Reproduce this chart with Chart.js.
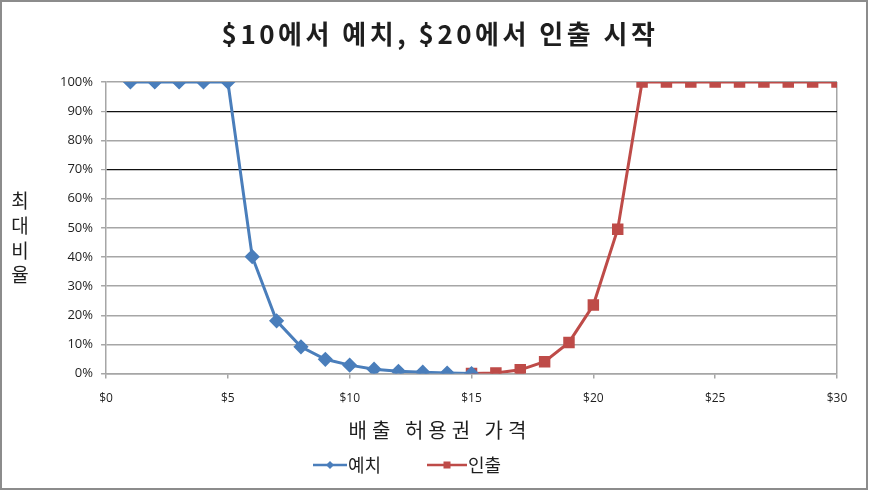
<!DOCTYPE html>
<html>
<head>
<meta charset="utf-8">
<script src="https://cdn.jsdelivr.net/npm/chart.js@4.4.1/dist/chart.umd.min.js"></script>
<style>
  html, body { margin: 0; padding: 0; background: #fff; }
  #wrap { position: relative; width: 870px; height: 491px; }
</style>
</head>
<body>
<div id="wrap"><canvas id="chart" width="870" height="491"></canvas></div>
<script>
// ======================================
// DATA
// ======================================
const depositPrice = [1, 2, 3, 4, 5, 6, 7, 8, 9, 10, 11, 12, 13, 14, 15];
const depositShare = [100, 100, 100, 100, 100, 40.1, 18.1, 9.2, 4.9, 2.9, 1.5, 0.8, 0.5, 0.2, 0];
const withdrawPrice = [15, 16, 17, 18, 19, 20, 21, 22, 23, 24, 25, 26, 27, 28, 29, 30];
const withdrawShare = [0, 0.2, 1.3, 4.1, 10.7, 23.5, 49.5, 100, 100, 100, 100, 100, 100, 100, 100, 100];
const seriesNames = ['예치', '인출'];
const chartTitle = '$10에서 예치, $20에서 인출 시작';
const xTitle = '배출 허용권 가격';
const yTitleChars = ['최', '대', '비', '율'];

const blue = '#4a7ebb';
const red = '#be4b48';
const textColor = '#1e1e1e';
const fontKr = '"Noto Sans CJK KR", "Noto Sans", sans-serif';
const fontTick = '"Open Sans", "Noto Sans", sans-serif';

function toPoints(xs, ys) { return xs.map((x, i) => ({ x: x, y: ys[i] })); }

// Excel-like legend entry: short line with the series marker, text right after it
function drawLegendItem(ctx, x, y, len, ds) {
    ctx.strokeStyle = ds.borderColor; ctx.lineWidth = 2.5;
    ctx.beginPath(); ctx.moveTo(x, y); ctx.lineTo(x + len, y); ctx.stroke();
    ctx.fillStyle = ds.borderColor;
    const cx = x + len / 2;
    if (ds.pointStyle === 'rectRot') {
        ctx.beginPath(); ctx.moveTo(cx, y - 4); ctx.lineTo(cx + 4, y); ctx.lineTo(cx, y + 4); ctx.lineTo(cx - 4, y); ctx.closePath(); ctx.fill();
    } else {
        ctx.fillRect(cx - 3.5, y - 3.5, 7, 7);
    }
    ctx.fillStyle = textColor;
    ctx.textAlign = 'left';
    ctx.fillText(ds.label, x + len + 1, y);
}

// frame, title, axis titles (letter spaced like the original), legend
const extras = {
    id: 'extras',
    afterDraw(chart) {
        const ctx = chart.ctx;
        ctx.save();
        ctx.strokeStyle = '#8c8c8c'; ctx.lineWidth = 2;
        ctx.strokeRect(1, 1, 866, 488);
        ctx.fillStyle = textColor;
        ctx.textAlign = 'center'; ctx.textBaseline = 'middle';

        ctx.font = 'bold 26px ' + fontKr;
        ctx.letterSpacing = '3.5px';
        ctx.fillText(chartTitle, 440, 34);

        ctx.font = '20px ' + fontKr;
        ctx.letterSpacing = '5px';
        ctx.fillText(xTitle, 440, 430);

        ctx.letterSpacing = '0px';
        ctx.font = '19px ' + fontKr;
        yTitleChars.forEach((ch, i) => ctx.fillText(ch, 20, 201 + i * 24.7));

        ctx.font = '18px ' + fontKr;
        const ds = chart.data.datasets;
        drawLegendItem(ctx, 313, 465, 34, ds[0]);
        drawLegendItem(ctx, 427, 465, 40, ds[1]);
        ctx.restore();
    }
};

const data = {
    datasets: [
        {
            label: seriesNames[0], data: toPoints(depositPrice, depositShare),
            borderColor: blue, backgroundColor: blue, borderWidth: 3,
            pointStyle: 'rectRot', pointRadius: 5.5, pointHoverRadius: 5.5, tension: 0
        },
        {
            label: seriesNames[1], data: toPoints(withdrawPrice, withdrawShare),
            borderColor: red, backgroundColor: red, borderWidth: 3,
            pointStyle: 'rect', pointRadius: 6, pointHoverRadius: 6, tension: 0
        }
    ]
};

const options = {
    responsive: false, animation: false,
    layout: { padding: { left: 52, right: 33, top: 82, bottom: 72 } },
    scales: {
        x: {
            type: 'linear', min: 0, max: 30,
            ticks: { stepSize: 5, padding: 13, color: textColor, font: { family: fontTick, size: 12 },
                     callback: v => '$' + v },
            grid: {
                color: c => c.tick && c.tick.value === 30 ? '#a6a6a6' : 'rgba(0,0,0,0)',
                tickColor: '#a6a6a6', tickLength: 5, lineWidth: 1.5
            },
            border: { color: '#a6a6a6', width: 1.5 }
        },
        y: {
            min: 0, max: 100,
            ticks: { stepSize: 10, padding: 8, color: textColor, font: { family: fontTick, size: 13 },
                     callback: v => v + '%' },
            grid: {
                color: c => (c.tick && (c.tick.value === 90 || c.tick.value === 70)) ? '#111' : '#a6a6a6',
                lineWidth: c => (c.tick && (c.tick.value === 90 || c.tick.value === 70)) ? 1.2 : 1.5,
                tickColor: '#a6a6a6', tickLength: 5
            },
            border: { color: '#a6a6a6', width: 1.5 }
        }
    },
    plugins: {
        title: { display: false },
        legend: { display: false },
        tooltip: { enabled: false }
    }
};

document.addEventListener('DOMContentLoaded', function() {
    new Chart(document.getElementById('chart'), { type: 'line', data: data, options: options, plugins: [extras] });
});
</script>
</body>
</html>
